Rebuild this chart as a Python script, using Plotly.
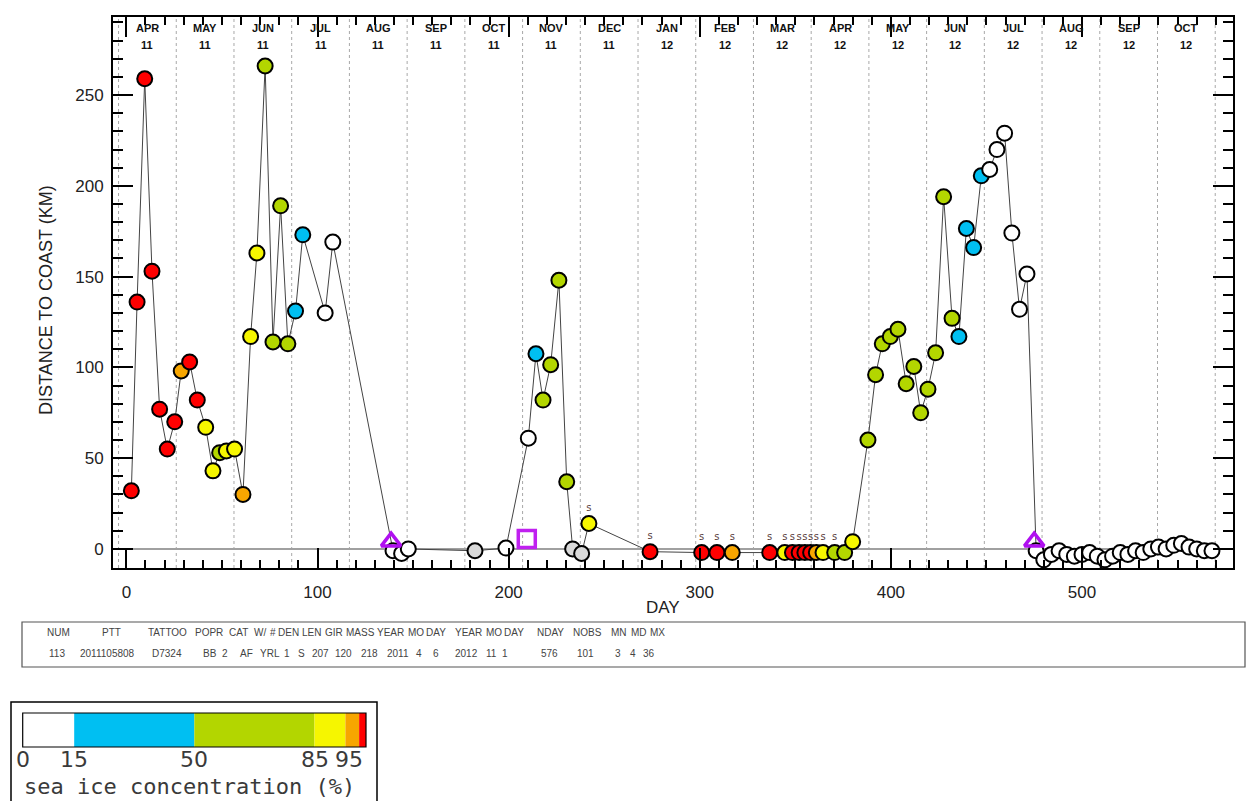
import plotly.graph_objects as go

# ---------------------------------------------------------------
# Track of tag 2011105808: day since deployment, distance to coast
# (km) and sea-ice class at each location fix.
# Ice classes: W 0-15 %, B 15-50 %, G 50-85 %, Y 85-95 %,
#              O 95-98 %, R 98-100 %, N no ice value
# ---------------------------------------------------------------
day = [
    2.6, 5.6, 9.6, 13.4, 17.4, 21.4, 25.3, 28.7, 33.1, 37.1,
    41.5, 45.3, 48.8, 52.3, 56.6, 61.0, 65.0, 68.3, 72.6, 76.7,
    80.7, 84.5, 88.5, 92.3, 104.0, 108.0,
    139.5, 144.0, 147.5,
    182.4, 198.6,
    210.3, 214.3, 218.0, 222.0, 226.3, 230.4, 233.5, 238.2, 242.0,
    274.0, 301.0, 309.0, 317.0, 336.6,
    344.5, 348.5, 352.0, 355.0, 358.0, 361.0, 364.5,
    370.6, 375.8, 380.0,
    388.0, 392.0, 395.5, 399.7, 403.7, 408.0, 412.0, 415.6, 419.4, 423.4,
    427.6, 432.0, 435.6, 439.5, 443.3, 447.3, 451.7, 455.5, 459.5, 463.3,
    467.3, 471.2,
    476.0, 480.0, 484.0, 488.0, 492.0, 496.0, 500.0, 504.0, 508.0, 512.0,
    516.0, 520.0, 524.0, 528.0, 532.0, 536.0, 540.0, 544.0, 548.0, 552.0,
    556.0, 560.0, 564.0, 568.0,
]
dist_km = [
    32, 136, 259, 153, 77, 55, 70, 98, 103, 82,
    67, 43, 53, 54, 55, 30, 117, 163, 266, 114,
    189, 113, 131, 173, 130, 169,
    -1, -2.5, 0,
    -1, 0.5,
    61, 107.5, 82, 101.5, 148, 37, 0, -2.5, 14,
    -1.5, -2, -2, -2, -2,
    -2, -2, -2, -2, -2, -2, -2,
    -2, -2, 4,
    60, 96, 113, 117, 121, 91, 100.5, 75, 88, 108,
    194, 127, 117, 176.5, 166, 205.5, 209, 220, 229, 174,
    132, 151.5,
    -1, -6, -3, -1, -3, -4, -3, -2, -4, -6,
    -4, -2, -3, -1, -2, 0, 1, 0, 2, 3,
    1, 0, -1, -1,
]
ice_class = [
    "R", "R", "R", "R", "R", "R", "R", "O", "R", "R",
    "Y", "Y", "G", "Y", "Y", "O", "Y", "Y", "G", "G",
    "G", "G", "B", "B", "W", "W",
    "W", "W", "W",
    "N", "W",
    "W", "B", "G", "G", "G", "G", "N", "N", "Y",
    "R", "R", "R", "O", "R",
    "Y", "R", "R", "R", "R", "O", "Y",
    "G", "G", "Y",
    "G", "G", "G", "G", "G", "G", "G", "G", "G", "G",
    "G", "G", "B", "B", "B", "B", "W", "W", "W", "W",
    "W", "W",
] + ["W"] * 24

# fixes flagged "s"
s_days = [242.0, 274.0, 301.0, 309.0, 317.0, 336.6,
          344.5, 348.5, 352.0, 355.0, 358.0, 361.0, 364.5, 370.6]

# event markers
tri_days = [138.5, 475.0]
tri_km = [4, 4]
sq_days = [209.5]
sq_km = [5.5]

# calendar labels along the top of the panel
month_names = ["APR", "MAY", "JUN", "JUL", "AUG", "SEP", "OCT", "NOV", "DEC",
               "JAN", "FEB", "MAR", "APR", "MAY", "JUN", "JUL", "AUG", "SEP", "OCT"]
month_years = ["11"] * 9 + ["12"] * 10
month_first_center = 11.0
month_step = 30.2

# sea-ice colour scale
ice_edges = [0, 15, 50, 85, 94, 98, 100]
ice_bin_colors = ["#ffffff", "#00bff2", "#b3d600", "#f6f600", "#f7a600", "#ff0000"]
ice_tick_vals = [0, 15, 50, 85, 95]
ice_class_color = {"W": "#ffffff", "B": "#00bff2", "G": "#b3d600", "Y": "#f6f600",
                   "O": "#f7a600", "R": "#ff0000", "N": "#d9d9d9"}

# summary table
table_head = ["NUM", "PTT", "TATTOO", "POP", "R", "CAT", "W/", "#", "DEN", "LEN", "GIR",
              "MASS", "YEAR", "MO", "DAY", "YEAR", "MO", "DAY", "NDAY", "NOBS",
              "MN", "MD", "MX"]
table_vals = ["113", "2011105808", "D7324", "BB", "2", "AF", "YRL", "1", "S", "207",
              "120", "218", "2011", "4", "6", "2012", "11", "1", "576", "101",
              "3", "4", "36"]
head_px = [58, 111, 167, 205, 219, 238, 260, 273, 288, 311, 334, 360, 390, 416, 436,
           468, 494, 514, 550, 587, 619, 639, 657]
vals_px = [57, 107, 167, 210, 225, 246, 270, 287, 301, 320, 343, 369, 398, 419, 436,
           466, 491, 505, 549, 585, 618, 633, 649]

# ---------------------------------------------------------------
W, H = 1248, 801
PL, PR, PT, PB = 113, 1233, 17, 568
X_RANGE = [-7, 579]
Y_RANGE = [-10.5, 293]


def pxx(px):
    return (px - PL) / (PR - PL)


def pxy(py):
    return (PB - py) / (PB - PT)


fig = go.Figure()
shapes = []

# month separators (dotted) half-way between month labels
month_centers = [month_first_center + month_step * k for k in range(len(month_names))]
for k in range(len(month_centers) + 1):
    xb = month_centers[0] + month_step * (k - 0.5)
    if X_RANGE[0] < xb < X_RANGE[1]:
        shapes.append(dict(type="line", xref="x", yref="paper", x0=xb, x1=xb, y0=0, y1=1,
                           line=dict(color="#a8a8a8", width=1, dash="dot"), layer="below"))

# track
fig.add_trace(go.Scatter(
    x=day, y=dist_km, mode="lines+markers",
    line=dict(color="#444444", width=1),
    marker=dict(size=15, color=[ice_class_color[c] for c in ice_class],
                line=dict(color="black", width=2)),
    showlegend=False, hoverinfo="x+y",
))

# "s" flags above the corresponding fixes
s_y = [dist_km[day.index(d)] for d in s_days]
fig.add_trace(go.Scatter(
    x=s_days, y=s_y, mode="markers+text", text=["s"] * len(s_days),
    textposition="top center",
    textfont=dict(family="DejaVu Sans", size=10, color="#5a4040"),
    marker=dict(size=15, opacity=0), showlegend=False, hoverinfo="skip",
))

# event markers
fig.add_trace(go.Scatter(
    x=tri_days, y=tri_km, mode="markers",
    marker=dict(symbol="triangle-up-open", size=17, color="#b010f0",
                line=dict(width=3.5, color="#b010f0")),
    showlegend=False, hoverinfo="skip",
))
fig.add_trace(go.Scatter(
    x=sq_days, y=sq_km, mode="markers",
    marker=dict(symbol="square-open", size=17, color="#c020f0",
                line=dict(width=3.5, color="#c020f0")),
    showlegend=False, hoverinfo="skip",
))

annotations = []
month_font = dict(family="Liberation Sans Narrow, Arial Narrow, Liberation Sans",
                  size=11, color="#111")
for xc, mn, yr in zip(month_centers, month_names, month_years):
    annotations.append(dict(x=xc, y=pxy(28), xref="x", yref="paper", text="<b>%s</b>" % mn,
                            showarrow=False, font=month_font, xanchor="center", yanchor="middle"))
    annotations.append(dict(x=xc, y=pxy(45), xref="x", yref="paper", text="<b>%s</b>" % yr,
                            showarrow=False, font=month_font, xanchor="center", yanchor="middle"))

annotations.append(dict(x=pxx(46), y=pxy(300), xref="paper", yref="paper",
                        text="DISTANCE TO COAST (KM)", textangle=-90, showarrow=False,
                        xanchor="center", yanchor="middle",
                        font=dict(family="Liberation Sans", size=18, color="#222")))
annotations.append(dict(x=pxx(663), y=pxy(607), xref="paper", yref="paper", text="DAY",
                        showarrow=False, xanchor="center", yanchor="middle",
                        font=dict(family="Liberation Sans", size=17, color="#222")))

# summary table
tab_font = dict(family="Liberation Sans Narrow, Arial Narrow, Liberation Sans", size=10, color="#444")
for t, p in zip(table_head, head_px):
    annotations.append(dict(x=pxx(p), y=pxy(632), xref="paper", yref="paper", text=t,
                            showarrow=False, font=tab_font, xanchor="center", yanchor="middle"))
for t, p in zip(table_vals, vals_px):
    annotations.append(dict(x=pxx(p), y=pxy(653), xref="paper", yref="paper", text=t,
                            showarrow=False, font=tab_font, xanchor="center", yanchor="middle"))

shapes.append(dict(type="rect", xref="paper", yref="paper", x0=pxx(22), x1=pxx(1245),
                   y0=pxy(667), y1=pxy(622), line=dict(color="#555", width=1.2)))

# colour-scale legend
BAR_L, BAR_R, BAR_T, BAR_B = 22.7, 366.0, 713, 747


def pct_px(v):
    return BAR_L + (BAR_R - BAR_L) * v / 100.0


shapes.append(dict(type="rect", xref="paper", yref="paper", x0=pxx(11), x1=pxx(377),
                   y0=pxy(806), y1=pxy(702), line=dict(color="black", width=1.5)))
for lo, hi, col in zip(ice_edges[:-1], ice_edges[1:], ice_bin_colors):
    shapes.append(dict(type="rect", xref="paper", yref="paper", x0=pxx(pct_px(lo)),
                       x1=pxx(pct_px(hi)), y0=pxy(BAR_B), y1=pxy(BAR_T),
                       fillcolor=col, line=dict(width=0)))
shapes.append(dict(type="rect", xref="paper", yref="paper", x0=pxx(BAR_L), x1=pxx(BAR_R),
                   y0=pxy(BAR_B), y1=pxy(BAR_T), line=dict(color="black", width=1.2)))
num_font = dict(family="DejaVu Sans", size=22, color="#3a3a3a")
cap_font = dict(family="DejaVu Sans Mono", size=22, color="#3a3a3a")
for v in ice_tick_vals:
    annotations.append(dict(x=pxx(pct_px(v)), y=pxy(759), xref="paper", yref="paper",
                            text=str(v), showarrow=False, font=num_font,
                            xanchor="center", yanchor="middle"))
annotations.append(dict(x=pxx(189), y=pxy(786), xref="paper", yref="paper",
                        text="sea ice concentration (%)", showarrow=False, font=cap_font,
                        xanchor="center", yanchor="middle"))

axis_common = dict(showline=True, linecolor="black", linewidth=2, mirror="ticks",
                   ticks="inside", tickcolor="black", showgrid=False,
                   tickfont=dict(family="Liberation Sans", size=17, color="#222"))

fig.update_layout(
    width=W, height=H,
    margin=dict(l=PL, r=W - PR, t=PT, b=H - PB),
    paper_bgcolor="white", plot_bgcolor="white",
    xaxis=dict(range=X_RANGE, tickvals=[0, 100, 200, 300, 400, 500], ticklen=20, tickwidth=1.5,
               minor=dict(dtick=10, tick0=0, ticklen=8, ticks="inside", tickcolor="black"),
               zeroline=False, ticklabelstandoff=8, **axis_common),
    yaxis=dict(range=Y_RANGE, tickvals=[0, 50, 100, 150, 200, 250], ticklen=20, tickwidth=1.5,
               minor=dict(dtick=10, tick0=0, ticklen=10, ticks="inside", tickcolor="black"),
               zeroline=True, zerolinecolor="#a0a0a0", zerolinewidth=1.5,
               ticklabelstandoff=4, **axis_common),
    shapes=shapes,
    annotations=annotations,
)

fig.write_html("out.html")
